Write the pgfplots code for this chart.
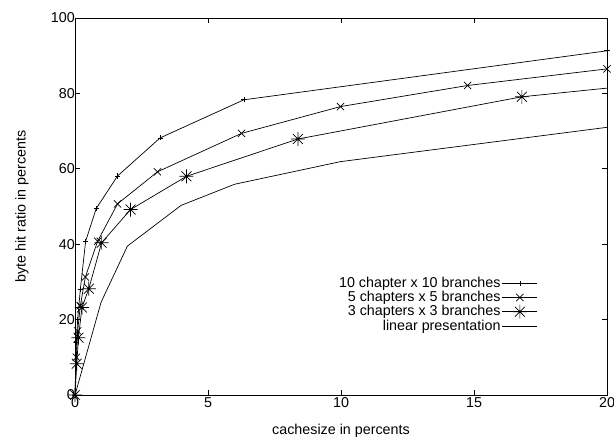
\documentclass[border=0pt]{standalone}
\usepackage{fontspec}
\setmainfont{Liberation Sans}
\usepackage{pgfplots}
\pgfplotsset{compat=1.18}
\pgfdeclareplotmark{gpstar}{%
  \pgfpathmoveto{\pgfqpoint{-\pgfplotmarksize}{0pt}}\pgfpathlineto{\pgfqpoint{\pgfplotmarksize}{0pt}}%
  \pgfpathmoveto{\pgfqpoint{0pt}{-\pgfplotmarksize}}\pgfpathlineto{\pgfqpoint{0pt}{\pgfplotmarksize}}%
  \pgfpathmoveto{\pgfqpoint{-.707\pgfplotmarksize}{-.707\pgfplotmarksize}}\pgfpathlineto{\pgfqpoint{.707\pgfplotmarksize}{.707\pgfplotmarksize}}%
  \pgfpathmoveto{\pgfqpoint{-.707\pgfplotmarksize}{.707\pgfplotmarksize}}\pgfpathlineto{\pgfqpoint{.707\pgfplotmarksize}{-.707\pgfplotmarksize}}%
  \pgfusepathqstroke}
\pgfdeclareplotmark{gpx}{%
  \pgfpathmoveto{\pgfqpoint{-\pgfplotmarksize}{-\pgfplotmarksize}}\pgfpathlineto{\pgfqpoint{\pgfplotmarksize}{\pgfplotmarksize}}%
  \pgfpathmoveto{\pgfqpoint{-\pgfplotmarksize}{\pgfplotmarksize}}\pgfpathlineto{\pgfqpoint{\pgfplotmarksize}{-\pgfplotmarksize}}%
  \pgfusepathqstroke}
\pgfdeclareplotmark{gpplus}{%
  \pgfpathmoveto{\pgfqpoint{-\pgfplotmarksize}{0pt}}\pgfpathlineto{\pgfqpoint{\pgfplotmarksize}{0pt}}%
  \pgfpathmoveto{\pgfqpoint{0pt}{-\pgfplotmarksize}}\pgfpathlineto{\pgfqpoint{0pt}{\pgfplotmarksize}}%
  \pgfusepathqstroke}
\begin{document}
\fontsize{14.3pt}{17pt}\selectfont
\begin{tikzpicture}
\begin{axis}[
  scale only axis,
  width=532pt, height=377pt,
  xmin=0, xmax=20, ymin=0, ymax=100,
  xtick={0,5,10,15,20}, ytick={0,20,40,60,80,100},
  tick pos=both, tick align=inside,
  major tick length=5pt,
  axis line style={line width=0.8pt},
  tick style={line width=0.7pt, black},
  /pgf/number format/assume math mode=true,
  xlabel={cachesize in percents},
  ylabel={byte hit ratio in percents},
  every axis x label/.style={at={(axis description cs:0.5,-0.094)}, anchor=center},
  every axis y label/.style={at={(axis description cs:-0.0996,0.5)}, anchor=center, rotate=90},
  xticklabel style={yshift=0pt, inner sep=2pt},
  yticklabel style={xshift=2pt, inner sep=2pt},
  legend plot pos=right,
  legend cell align=right,
  legend style={draw=none, fill=none, at={(axis description cs:0.872,0.32)}, anchor=north east,
    row sep=-1.3pt, inner sep=1pt,
    nodes={inner sep=1.5pt}},
  legend image code/.code={\draw[mark repeat=2,mark phase=2,#1] plot coordinates {(0pt,0pt) (17.5pt,0pt) (35pt,0pt)};},
  every axis plot/.append style={line width=0.7pt, black},
]
\addplot[mark=gpplus, mark size=2.6pt] coordinates {
  (0,0) (0.05,14) (0.1,20) (0.2,28) (0.4,40.8) (0.8,49.5) (1.6,58.1) (3.2,68.2) (6.35,78.3) (20,91.3)};
\addlegendentry{10 chapter x 10 branches}
\addplot[mark=gpx, mark size=3.6pt] coordinates {
  (0,0) (0.05,10) (0.1,17) (0.2,23.7) (0.39,31.3) (0.85,40.8) (1.6,50.7) (3.1,59.2) (6.26,69.4) (9.98,76.5) (14.76,82.1) (20,86.5)};
\addlegendentry{5 chapters x 5 branches}
\addplot[mark=gpstar, mark size=7pt] coordinates {
  (0,0) (0.066,8.3) (0.13,15.2) (0.26,23.2) (0.52,28.2) (1.0,40.4) (2.09,49.2) (4.19,58) (8.38,67.9) (16.8,79.1)};
\addlegendentry{3 chapters x 3 branches}
\addplot[forget plot] coordinates {(16.8,79.1) (20,81.4)};
\addplot[mark=none] coordinates {
  (0,0) (0.98,24.6) (1.97,39.5) (3.99,50.3) (6.0,55.9) (9.98,61.9) (20,71.0)};
\addlegendentry{linear presentation}
\end{axis}
\pgfresetboundingbox
\path (current axis.south west) ++(-75pt,-44pt) coordinate (bl);
\path (current axis.north east) ++(7pt,18pt) coordinate (tr);
\path (bl) rectangle (tr);
\end{tikzpicture}
\end{document}
